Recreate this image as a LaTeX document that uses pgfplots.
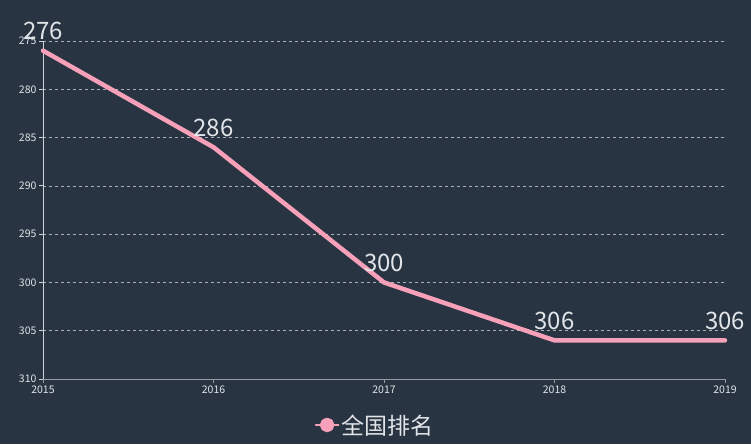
\documentclass[border=0pt]{standalone}
\usepackage{pgfplots}
\pgfplotsset{compat=1.18}
\usepackage{fontspec}
\setmainfont{Noto Sans CJK SC}
\definecolor{bg}{RGB}{40,52,65}
\definecolor{pinkline}{RGB}{246,160,186}
\definecolor{txt}{RGB}{225,228,232}
\definecolor{gridc}{RGB}{170,175,182}
\definecolor{xaxisc}{RGB}{150,155,162}
\definecolor{yaxisc}{RGB}{205,208,212}
\begin{document}
\begin{tikzpicture}[x=1pt,y=1pt]
\fill[bg] (-43,-65) rectangle (708,379);
\useasboundingbox (-43,-65) rectangle (708,379);
\begin{axis}[
  at={(0,0)}, anchor=south west,
  scale only axis, width=682pt, height=338pt,
  xmin=2015, xmax=2019, ymin=275, ymax=310,
  y dir=reverse,
  xtick={2015,2016,2017,2018,2019},
  ytick={275,280,285,290,295,300,305,310},
  /pgf/number format/1000 sep={},
  /pgf/number format/assume math mode=true,
  axis x line*=bottom, axis y line*=left,
  x axis line style={draw=xaxisc, line width=1pt, -},
  y axis line style={draw=yaxisc, line width=0.8pt, -},
  tick align=outside,
  major tick length=4pt,
  xtick style={draw=xaxisc, line width=0.8pt},
  ytick style={draw=yaxisc, line width=0.8pt},
  ymajorgrids,
  major grid style={draw=gridc, dash pattern=on 3pt off 3pt, line width=0.6pt},
  tick label style={font=\fontsize{10.5}{11}\selectfont, text=txt},
  xticklabel style={yshift=1pt},
  yticklabel style={xshift=1pt},
  clip=false,
  legend style={at={(axis description cs:0.487,-0.136)}, anchor=center,
    draw=none, fill=none, text=txt, font=\fontsize{23}{23}\selectfont,
    legend cell align=left, inner sep=0pt},
  legend image code/.code={
    \draw[pinkline, line width=1.3pt] (0pt,0pt) -- (23pt,0pt);
    \fill[pinkline] (11.5pt,0pt) circle (5pt);
  },
  nodes near coords,
  every node near coord/.append style={anchor=base, yshift=11pt, text=txt,
    font=\fontsize{24}{24}\selectfont},
]
\addplot[pinkline, line width=4.5pt, line join=round, line cap=round, mark=none]
  coordinates {(2015,276) (2016,286) (2017,300) (2018,306) (2019,306)};
\addlegendentry{全国排名}
\end{axis}
\end{tikzpicture}
\end{document}
